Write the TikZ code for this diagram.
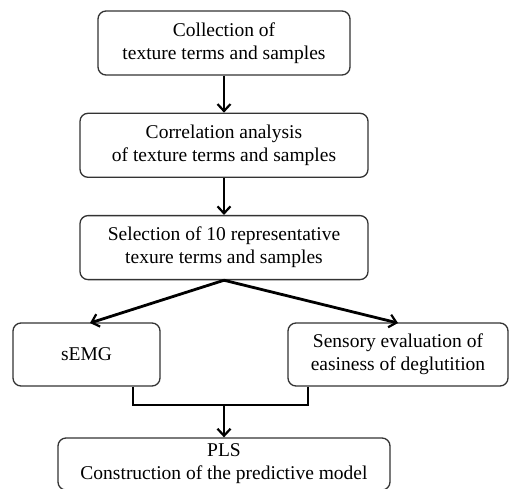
\documentclass[tikz,border=0pt]{standalone}
\usepackage{fontspec}
\setmainfont{Liberation Serif}
\usetikzlibrary{arrows.meta, positioning}
\definecolor{boxLine}{HTML}{333333}

\begin{document}
\begin{tikzpicture}[
		x=1pt, y=-1pt,
		node distance=37pt,
		every node/.style={font=\fontsize{19.5}{23}\selectfont},
		box/.style={rounded corners=8pt, draw=boxLine, line width=1.3pt, fill=white, minimum height=64pt, align=center, inner sep=2pt},
		arrow/.style={-{Straight Barb[length=7pt, width=13pt, line width=2.2pt]}, line width=2.8pt, draw=black},
		link/.style={line width=2.8pt, draw=black}
	]
		\useasboundingbox (0,0) rectangle (509,488);

		\node[box, minimum width=252pt] (collect) at (224,43) {Collection of\\texture terms and samples};
		\node[box, minimum width=288pt, below=of collect] (corr) {Correlation analysis\\of texture terms and samples};
		\node[box, minimum width=288pt, below=of corr] (select) {Selection of 10 representative\\texure terms and samples};
		\node[box, minimum width=147pt, minimum height=63pt] (semg) at (86.5,354.5) {sEMG};
		\node[box, minimum width=220pt, minimum height=63pt] (sensory) at (398,354.5) {Sensory evaluation of\\easiness of deglutition};
		\node[box, minimum width=332pt, minimum height=52pt] (pls) at (224,464) {PLS\\Construction of the predictive model};

		\coordinate (join) at (224,405);

		\draw[arrow] (collect) -- (corr);
		\draw[arrow] (corr) -- (select);
		\draw[arrow] (select.south) -- (90,323);
		\draw[arrow] (select.south) -- (398,323);
		\draw[link] (semg.south -| 133,0) |- (join);
		\draw[link] (sensory.south -| 308,0) |- (join);
		\draw[arrow] (join) -- (pls);
	\end{tikzpicture}
\end{document}
